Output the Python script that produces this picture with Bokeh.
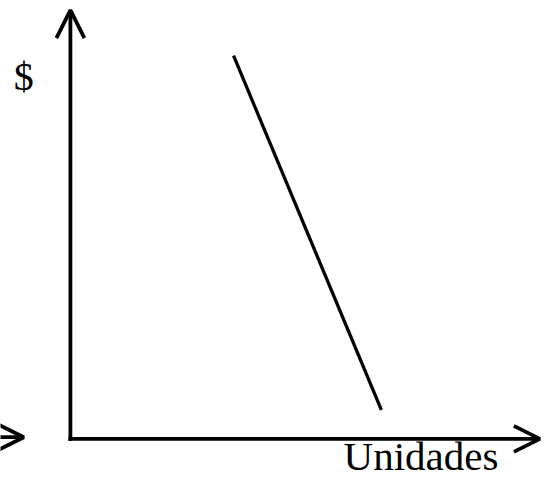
from bokeh.plotting import figure
from bokeh.models import Range1d, Arrow, OpenHead, Label
from bokeh.embed import file_html
from bokeh.resources import INLINE

# ---- data ----
units = [3.5, 6.67]          # Unidades (x) of the two ends of the line
price = [9.0, 0.68]          # $ (y) of the two ends of the line
x_label = "Unidades"
y_label = "$"

# ---- layout ----
X_MIN, X_MAX = -1.4995, 10.127
Y_MIN, Y_MAX = -0.9535, 10.296

p = figure(width=542, height=479,
           x_range=Range1d(X_MIN, X_MAX), y_range=Range1d(Y_MIN, Y_MAX),
           x_axis_type=None, y_axis_type=None,
           output_backend="svg", toolbar_location=None,
           min_border=0, min_border_left=0, min_border_right=0,
           min_border_top=0, min_border_bottom=0)
p.grid.visible = False
p.outline_line_color = None
p.background_fill_color = "white"
p.border_fill_color = "white"

# vertical ($) axis with arrow
p.add_layout(Arrow(end=OpenHead(size=28, line_width=3.8, line_color="black"),
                   x_start=0, y_start=-0.05, x_end=0, y_end=10.07,
                   line_width=3.8, line_color="black"))
# horizontal (Unidades) axis with arrow
p.add_layout(Arrow(end=OpenHead(size=26, line_width=3.8, line_color="black"),
                   x_start=-0.04, y_start=0, x_end=10.07, y_end=0,
                   line_width=3.8, line_color="black"))
# stray arrow tip at the left edge
p.add_layout(Arrow(end=OpenHead(size=26, line_width=3.8, line_color="black"),
                   x_start=-2.2, y_start=0.04, x_end=-1.0, y_end=0.04,
                   line_width=3.8, line_color="black"))

# the line
p.line(units, price, line_width=3.3, line_color="black")

# labels
p.add_layout(Label(x=-1.215, y=8.52, text=y_label, text_font="Liberation Serif",
                   text_font_size="40px", text_color="black",
                   text_baseline="alphabetic", text_align="left"))
p.add_layout(Label(x=5.86, y=-0.41, text=x_label, text_font="Liberation Serif",
                   text_font_size="41px", text_color="black",
                   text_baseline="alphabetic", text_align="left"))

open("out.html", "w").write(file_html(p, INLINE))
